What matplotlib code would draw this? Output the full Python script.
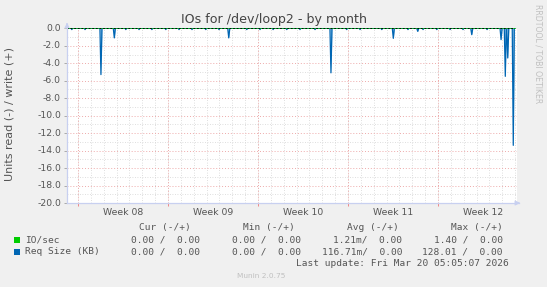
import numpy as np
import matplotlib
matplotlib.use('Agg')
import matplotlib.pyplot as plt
from matplotlib.patches import Rectangle

# Werte (Tage seit Beginn des Zeitfensters)
spike_day = [2.64, 3.68, 12.58, 20.53, 25.38, 27.28, 31.48, 33.76, 34.09, 34.28, 34.71]
spike_val = [-5.3, -1.1, -1.1, -5.1, -1.15, -0.35, -0.73, -1.3, -5.5, -3.4, -13.4]
dip_day = [0.37, 1.4, 4.57, 5.6, 6.6, 7.68, 8.71, 9.72, 10.79, 11.82, 13.98, 15.01,
           16.03, 17.09, 18.12, 19.29, 21.75, 22.79, 24.48, 26.52, 27.69, 28.76,
           29.79, 30.8, 32.67]
dip_val = -0.15
week_start = [0.86, 7.86, 14.86, 21.86, 28.86]
week_labels = ['Week 08', 'Week 09', 'Week 10', 'Week 11', 'Week 12']
data_end = 34.85

legend_names = ['IO/sec', 'Req Size (KB)']
legend_colors = ['#00cc00', '#0066b3']
cur_vals = ['0.00 /  0.00', '0.00 /  0.00']
min_vals = ['0.00 /  0.00', '0.00 /  0.00']
avg_vals = ['1.21m/  0.00', '116.71m/  0.00']
max_vals = ['1.40 /  0.00', '128.01 /  0.00']

W, H = 547, 287
fig = plt.figure(figsize=(W / 100, H / 100), dpi=100, facecolor='#f0f0f0')

def px(x, y):
    return x / W, 1 - y / H

# Plotbereich
L, T, R, B = 67, 28.3, 517, 203
ax = fig.add_axes([L / W, (H - B) / H, (R - L) / W, (B - T) / H])
ax.set_facecolor('white')
ax.set_xlim(0, 35)
ax.set_ylim(-20, 0)

# Grid
for d in np.arange(0, 35.01, 1.0):
    ax.axvline(d + 0.86 - 1, color='#d4d4d4', lw=0.6, ls=(0, (1, 2)), zorder=1)
for v in np.arange(-19, 0, 2):
    ax.axhline(v, color='#d4d4d4', lw=0.6, ls=(0, (1, 2)), zorder=1)
for d in week_start:
    ax.axvline(d, color='#eeaaaa', lw=0.7, ls=(0, (1, 2)), zorder=1)
for v in np.arange(-20, 0.1, 2):
    ax.axhline(v, color='#eeaaaa', lw=0.7, ls=(0, (1, 2)), zorder=1)

# Datenreihe zusammensetzen
pts = [(0, 0.0), (data_end, 0.0)]
for d, v in zip(spike_day, spike_val):
    pts += [(d - 0.08, 0.0), (d, v), (d + 0.08, 0.0)]
for d in dip_day:
    pts += [(d - 0.05, 0.0), (d, dip_val), (d + 0.05, 0.0)]
pts.sort()
t = np.array([p[0] for p in pts])
y = np.array([p[1] for p in pts])

ax.fill_between(t, y, 0, color='#8ec0e8', lw=0, zorder=2)
ax.plot(t, y, color='#0066b3', lw=0.9, zorder=3)
ax.plot([0, data_end], [0, 0], color='#00cc00', lw=0.5, zorder=3)
ax.plot([0, data_end], [0, 0], color='black', lw=1.3, ls=(0, (1, 1)), zorder=4)

for s in ax.spines.values():
    s.set_visible(False)
ax.set_xticks(week_start)
ax.set_xticklabels([])
ax.set_yticks(np.arange(-20, 0.1, 2))
ax.set_yticklabels([])
ax.tick_params(axis='x', length=2, color='#ee8888', width=0.7)
ax.tick_params(axis='y', length=2, color='#aaaaaa', width=0.7)

# Achsen mit Pfeilen
fig.add_artist(plt.Line2D([L / W, L / W], [1 - B / H, 1 - 24 / H], color='#c8d0f0', lw=0.9))
fig.add_artist(plt.Line2D([L / W, 519 / W], [1 - B / H, 1 - B / H], color='#c8d0f0', lw=0.9))
ax.annotate('', xy=px(L, 20), xytext=px(L, 27), xycoords='figure fraction',
            arrowprops=dict(arrowstyle='-|>', color='#c8d0f0', lw=0.8, mutation_scale=7))
ax.annotate('', xy=px(523, B), xytext=px(515, B), xycoords='figure fraction',
            arrowprops=dict(arrowstyle='-|>', color='#c8d0f0', lw=0.8, mutation_scale=7))

tc = '#555555'
for v in np.arange(-20, 0.1, 2):
    yy = T + (0 - v) / 20 * (B - T)
    fig.text(*px(61, yy), f'{v:.1f}', ha='right', va='center', fontsize=6.7, color=tc)
for d, lab in zip(week_start, week_labels):
    fig.text(*px(L + (d + 3.5) * (R - L) / 35, 212.5), lab, ha='center', va='center',
             fontsize=6.7, color=tc)

fig.text(*px(274, 19), 'IOs for /dev/loop2 - by month', ha='center', va='center',
         fontsize=9.1, color='#444444')
fig.text(*px(10, 114), 'Units read (-) / write (+)', ha='center', va='center',
         rotation=90, fontsize=8.0, color=tc)
fig.text(*px(538, 54), 'RRDTOOL / TOBI OETIKER', ha='center', va='center',
         rotation=270, fontsize=5.6, color='#c0c0c0')

# Legende
mono = dict(family='DejaVu Sans Mono', fontsize=6.8, color=tc, va='center')
fig.text(*px(191, 227.5), 'Cur (-/+)', ha='right', **mono)
fig.text(*px(295, 227.5), 'Min (-/+)', ha='right', **mono)
fig.text(*px(399, 227.5), 'Avg (-/+)', ha='right', **mono)
fig.text(*px(503, 227.5), 'Max (-/+)', ha='right', **mono)
for i, (name, col) in enumerate(zip(legend_names, legend_colors)):
    yy = 240 + i * 11.7
    fig.add_artist(Rectangle(px(13.5, yy + 3), 6 / W, 6 / H, transform=fig.transFigure,
                             facecolor=col, edgecolor='none'))
    fig.text(*px(25, yy), name, ha='left', **mono)
    fig.text(*px(200, yy), cur_vals[i], ha='right', **mono)
    fig.text(*px(301, yy), min_vals[i], ha='right', **mono)
    fig.text(*px(402, yy), avg_vals[i], ha='right', **mono)
    fig.text(*px(503, yy), max_vals[i], ha='right', **mono)
fig.text(*px(509, 263.5), 'Last update: Fri Mar 20 05:05:07 2026', ha='right', **mono)
fig.text(*px(261, 276), 'Munin 2.0.75', ha='center', va='center', fontsize=5.3, color='#c0c0c0')

fig.savefig('out.png', dpi=100, facecolor=fig.get_facecolor())
